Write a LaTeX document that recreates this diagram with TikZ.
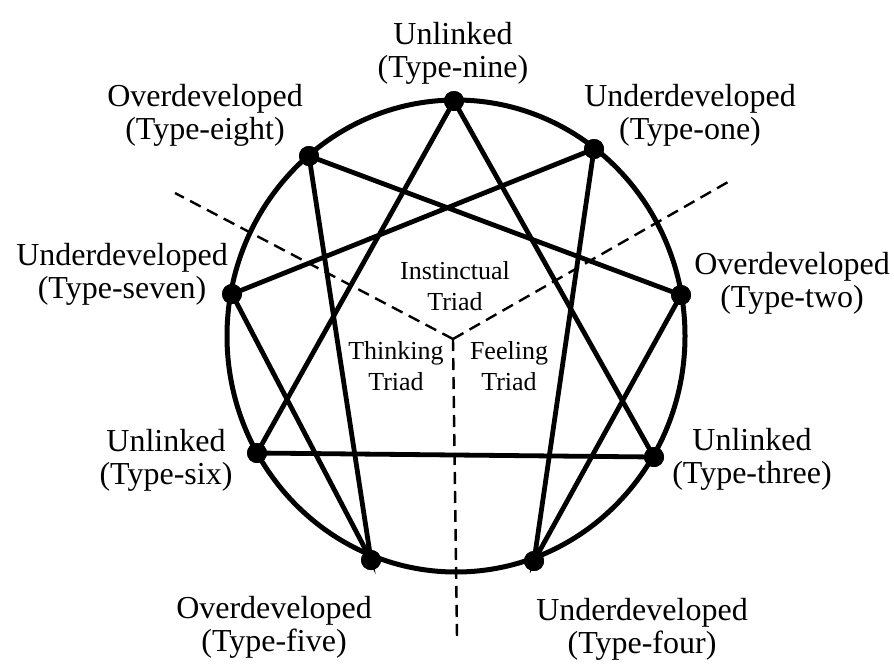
\documentclass[tikz,border=0pt]{standalone}
\usepackage{fontspec}
\setmainfont{Liberation Serif}
\begin{document}
\begin{tikzpicture}[x=1pt,y=-1pt,
  outerlbl/.style={align=center,inner sep=0pt,font=\fontsize{32}{33}\selectfont},
  innerlbl/.style={align=center,inner sep=0pt,font=\fontsize{26}{31}\selectfont},
  ring/.style={line width=5pt},
  chord/.style={line width=4.8pt},
  sep/.style={line width=2.4pt,dash pattern=on 12pt off 7pt},
  pt/.style={circle,fill=black,inner sep=0pt,minimum size=20pt}]
\useasboundingbox (0,0) rectangle (894,665);
\draw[ring] (456,336) ellipse [x radius=229pt, y radius=236pt];
% points
\node[pt] (p9) at (454,101) {};
\node[pt] (p1) at (594,149) {};
\node[pt] (p2) at (681,295) {};
\node[pt] (p3) at (654,457) {};
\node[pt] (p4) at (534,561) {};
\node[pt] (p5) at (371,560) {};
\node[pt] (p6) at (257,453) {};
\node[pt] (p7) at (232,294) {};
\node[pt] (p8) at (309,156) {};
% dashed triad separators
\coordinate (cj) at (453,339);
\coordinate (dl) at (175,193);
\coordinate (dr) at (728,182);
\coordinate (db) at (457,638);
\draw[sep] (cj) -- (dl);
\draw[sep] (cj) -- (dr);
\draw[sep] (cj) -- (db);
% triangle
\draw[chord] (p9.center) -- (p3.center) -- (p6.center) -- cycle;
% hexad
\draw[chord] (p1.center) -- (p4.center) -- (p2.center) -- (p8.center) -- (p5.center) -- (p7.center) -- cycle;
% redraw dots on top
\foreach \p in {p1,p2,p3,p4,p5,p6,p7,p8,p9} \fill (\p) circle (10pt);
% labels
\node[outerlbl] (l9) at (453,53) {Unlinked\\(Type-nine)};
\node[outerlbl] (l1) at (690,115) {Underdeveloped\\(Type-one)};
\node[outerlbl] (l2) at (792,283) {Overdeveloped\\(Type-two)};
\node[outerlbl] (l3) at (752,459) {Unlinked\\(Type-three)};
\node[outerlbl] (l4) at (642,629) {Underdeveloped\\(Type-four)};
\node[outerlbl] (l5) at (274,627) {Overdeveloped\\(Type-five)};
\node[outerlbl] (l6) at (166,460) {Unlinked\\(Type-six)};
\node[outerlbl] (l7) at (122,274) {Underdeveloped\\(Type-seven)};
\node[outerlbl] (l8) at (205,115) {Overdeveloped\\(Type-eight)};
\node[innerlbl] (ti) at (455,286) {Instinctual\\Triad};
\node[innerlbl] (tt) at (396,366) {Thinking\\Triad};
\node[innerlbl] (tf) at (509,366) {Feeling\\Triad};
\end{tikzpicture}
\end{document}
